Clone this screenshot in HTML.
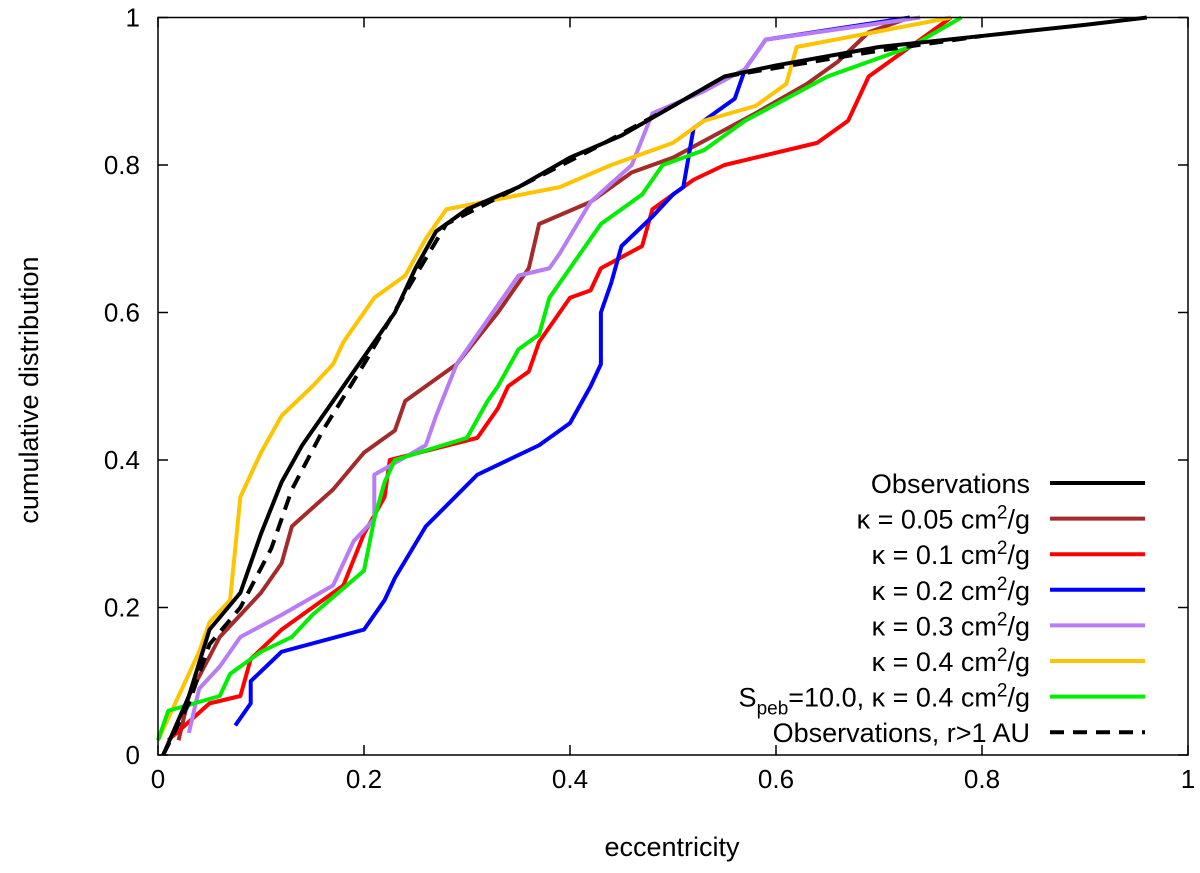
<!DOCTYPE html>
<html><head><meta charset="utf-8"><style>
body{margin:0;background:#fff}
text{font-family:"Liberation Sans",sans-serif;fill:#000}
</style></head><body>
<svg id="chart" width="1200" height="868" xmlns="http://www.w3.org/2000/svg">
<rect x="0" y="0" width="1200" height="868" fill="#fff"/>
<g id="plot"></g>
<g id="axes"></g>
<g id="legend"></g>
<text transform="translate(38,390) rotate(-90)" text-anchor="middle" font-size="27">cumulative distribution</text>
<text x="672" y="856" text-anchor="middle" font-size="27">eccentricity</text>
</svg>
<script>
const xTicks=[0,0.2,0.4,0.6,0.8,1];
const yTicks=[0,0.2,0.4,0.6,0.8,1];
const xTickLabels=["0","0.2","0.4","0.6","0.8","1"];
const yTickLabels=["0","0.2","0.4","0.6","0.8","1"];
const seriesNames=["Observations","κ = 0.05 cm²/g","κ = 0.1 cm²/g","κ = 0.2 cm²/g","κ = 0.3 cm²/g","κ = 0.4 cm²/g","Speb=10.0, κ = 0.4 cm²/g","Observations, r>1 AU"];
const obs=[[0.005,0],[0.03,0.08],[0.05,0.17],[0.08,0.22],[0.1,0.3],[0.12,0.37],[0.14,0.42],[0.17,0.48],[0.2,0.54],[0.23,0.6],[0.25,0.66],[0.27,0.71],[0.3,0.74],[0.35,0.77],[0.4,0.81],[0.45,0.84],[0.5,0.88],[0.55,0.92],[0.6,0.935],[0.7,0.96],[0.8,0.975],[0.9,0.99],[0.96,1.0]];
const k005=[[0.02,0.02],[0.03,0.08],[0.06,0.16],[0.1,0.22],[0.12,0.26],[0.13,0.31],[0.17,0.36],[0.2,0.41],[0.23,0.44],[0.24,0.48],[0.29,0.53],[0.33,0.6],[0.36,0.66],[0.37,0.72],[0.42,0.75],[0.46,0.79],[0.5,0.81],[0.54,0.84],[0.58,0.87],[0.63,0.91],[0.66,0.94],[0.69,0.98],[0.73,1.0]];
const k01=[[0.01,0.02],[0.05,0.07],[0.08,0.08],[0.09,0.13],[0.12,0.17],[0.16,0.21],[0.18,0.23],[0.2,0.3],[0.22,0.35],[0.225,0.4],[0.31,0.43],[0.33,0.47],[0.34,0.5],[0.36,0.52],[0.37,0.56],[0.39,0.6],[0.4,0.62],[0.42,0.63],[0.43,0.66],[0.47,0.69],[0.48,0.74],[0.52,0.78],[0.55,0.8],[0.64,0.83],[0.67,0.86],[0.69,0.92],[0.74,0.97],[0.77,1.0]];
const k02=[[0.075,0.04],[0.09,0.07],[0.09,0.1],[0.12,0.14],[0.2,0.17],[0.22,0.21],[0.23,0.24],[0.26,0.31],[0.31,0.38],[0.37,0.42],[0.4,0.45],[0.42,0.5],[0.43,0.53],[0.43,0.6],[0.44,0.64],[0.45,0.69],[0.48,0.73],[0.5,0.76],[0.51,0.77],[0.52,0.85],[0.56,0.89],[0.57,0.93],[0.59,0.97],[0.73,1.0]];
const k03=[[0.03,0.03],[0.04,0.09],[0.06,0.12],[0.08,0.16],[0.12,0.19],[0.17,0.23],[0.19,0.29],[0.21,0.32],[0.21,0.38],[0.26,0.42],[0.27,0.46],[0.29,0.53],[0.32,0.59],[0.35,0.65],[0.38,0.66],[0.39,0.68],[0.42,0.75],[0.46,0.8],[0.48,0.87],[0.53,0.9],[0.57,0.93],[0.59,0.97],[0.74,1.0]];
const k04=[[0.0,0.02],[0.02,0.08],[0.04,0.14],[0.05,0.18],[0.07,0.21],[0.075,0.28],[0.08,0.35],[0.1,0.41],[0.12,0.46],[0.15,0.5],[0.17,0.53],[0.18,0.56],[0.2,0.6],[0.21,0.62],[0.24,0.65],[0.26,0.7],[0.28,0.74],[0.39,0.77],[0.44,0.8],[0.5,0.83],[0.53,0.86],[0.58,0.88],[0.61,0.91],[0.62,0.96],[0.77,1.0]];
const speb=[[0.0,0.02],[0.01,0.06],[0.06,0.08],[0.07,0.11],[0.1,0.14],[0.13,0.16],[0.15,0.19],[0.2,0.25],[0.21,0.32],[0.22,0.37],[0.23,0.4],[0.3,0.43],[0.32,0.48],[0.33,0.5],[0.35,0.55],[0.37,0.57],[0.38,0.62],[0.4,0.66],[0.43,0.72],[0.47,0.76],[0.49,0.8],[0.53,0.82],[0.57,0.86],[0.61,0.89],[0.65,0.92],[0.73,0.96],[0.78,1.0]];
const obsFar=[[0.005,0],[0.03,0.07],[0.05,0.15],[0.08,0.2],[0.11,0.28],[0.13,0.36],[0.16,0.44],[0.2,0.53],[0.25,0.65],[0.28,0.72],[0.35,0.77],[0.42,0.82],[0.5,0.88],[0.55,0.92],[0.7,0.955],[0.8,0.975]];

const X0=158,X1=1188,Y0=755,Y1=17.5;
function sx(v){return X0+(X1-X0)*v;}
function sy(v){return Y0-(Y0-Y1)*v;}
const NS="http://www.w3.org/2000/svg";
function mk(tag,attrs,parent){const e=document.createElementNS(NS,tag);for(const k in attrs)e.setAttribute(k,attrs[k]);parent.appendChild(e);return e;}
const plot=document.getElementById('plot'),axes=document.getElementById('axes'),legend=document.getElementById('legend');

const series=[
 {d:k005,c:"#a52a2a",n:"series-kappa-0.05"},
 {d:k01,c:"#ff0000",n:"series-kappa-0.1"},
 {d:k02,c:"#0000ff",n:"series-kappa-0.2"},
 {d:k03,c:"#b87cf5",n:"series-kappa-0.3"},
 {d:k04,c:"#ffc400",n:"series-kappa-0.4"},
 {d:speb,c:"#00ee00",n:"series-speb-10"},
 {d:obsFar,c:"#000",n:"series-observations-r-gt-1au",dash:"14,9"},
 {d:obs,c:"#000",n:"series-observations"}
];
series.forEach(s=>{
 const p=mk('polyline',{points:s.d.map(q=>sx(q[0])+','+sy(q[1])).join(' '),fill:'none',stroke:s.c,'stroke-width':4,'stroke-linejoin':'round'},plot);
 if(s.dash)p.setAttribute('stroke-dasharray',s.dash);
 
 
});

const frame=mk('rect',{x:X0,y:Y1,width:X1-X0,height:Y0-Y1,fill:'none',stroke:'#000','stroke-width':1.5},axes);


xTicks.forEach((t,i)=>{
 mk('line',{x1:sx(t),x2:sx(t),y1:Y0,y2:Y0-10,stroke:'#000','stroke-width':1.5},axes);
 mk('line',{x1:sx(t),x2:sx(t),y1:Y1,y2:Y1+10,stroke:'#000','stroke-width':1.5},axes);
 const tx=mk('text',{x:sx(t),y:788,'text-anchor':'middle','font-size':26},axes);
 tx.textContent=xTickLabels[i];
 
 
});
yTicks.forEach((t,i)=>{
 mk('line',{x1:X0,x2:X0+10,y1:sy(t),y2:sy(t),stroke:'#000','stroke-width':1.5},axes);
 mk('line',{x1:X1,x2:X1-10,y1:sy(t),y2:sy(t),stroke:'#000','stroke-width':1.5},axes);
 const ty=mk('text',{x:140,y:sy(t)+9,'text-anchor':'end','font-size':26},axes);
 ty.textContent=yTickLabels[i];
 
 
});

const legColors=["#000","#a52a2a","#ff0000","#0000ff","#b87cf5","#ffc400","#00ee00","#000"];
const legHtml=["Observations","κ = 0.05 cm<tspan dy='-10' font-size='19'>2</tspan><tspan dy='10'>/g</tspan>","κ = 0.1 cm<tspan dy='-10' font-size='19'>2</tspan><tspan dy='10'>/g</tspan>","κ = 0.2 cm<tspan dy='-10' font-size='19'>2</tspan><tspan dy='10'>/g</tspan>","κ = 0.3 cm<tspan dy='-10' font-size='19'>2</tspan><tspan dy='10'>/g</tspan>","κ = 0.4 cm<tspan dy='-10' font-size='19'>2</tspan><tspan dy='10'>/g</tspan>","S<tspan dy='8' font-size='19'>peb</tspan><tspan dy='-8'>=10.0, κ = 0.4 cm</tspan><tspan dy='-10' font-size='19'>2</tspan><tspan dy='10'>/g</tspan>","Observations, r&gt;1 AU"];
legHtml.forEach((h,i)=>{
 const y=483+i*35.6;
 const g=mk('g',{},legend);
 
 
 const t=mk('text',{x:1030,y:y+10,'text-anchor':'end','font-size':27},g);
 t.innerHTML=h;
 const l=mk('line',{x1:1050,x2:1145,y1:y,y2:y,stroke:legColors[i],'stroke-width':4},g);
 if(i===7)l.setAttribute('stroke-dasharray','14,9');
});
</script>
</body></html>
